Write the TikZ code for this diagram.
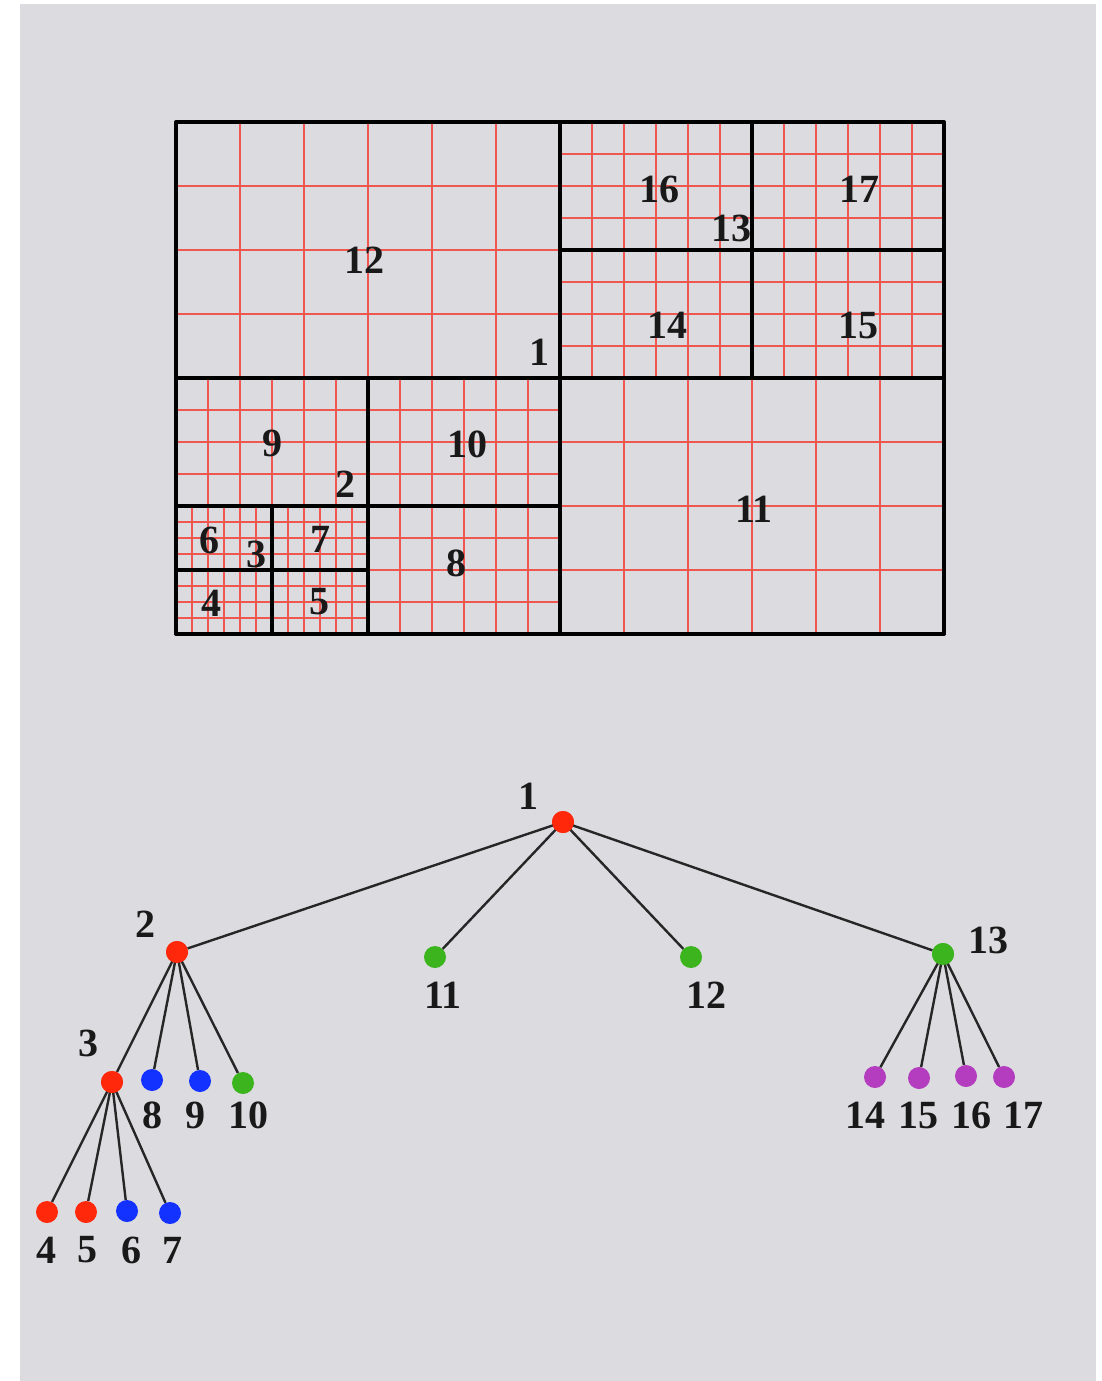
\documentclass[tikz,border=0pt]{standalone}
\usepackage{fontspec}
\setmainfont{Liberation Serif}
\definecolor{bg}{RGB}{220,220,224}
\definecolor{rg}{RGB}{238,88,80}
\definecolor{nred}{RGB}{255,40,10}
\definecolor{nblue}{RGB}{20,50,255}
\definecolor{ngreen}{RGB}{60,180,30}
\definecolor{nmag}{RGB}{180,60,190}
\newcommand\mygrid[5]{%
  \pgfmathtruncatemacro\nx{(#3-#1)/#5-1}%
  \pgfmathtruncatemacro\ny{(#4-#2)/#5-1}%
  \foreach \i in {1,...,\nx} \draw[rgline] ({#1+\i*#5},#2) -- ({#1+\i*#5},#4);%
  \foreach \j in {1,...,\ny} \draw[rgline] (#1,{#2+\j*#5}) -- (#3,{#2+\j*#5});%
}
\begin{document}
\begin{tikzpicture}[x=1pt,y=-1pt,
  rgline/.style={draw=rg,line width=2pt},
  bk/.style={draw=black,line width=4pt,line cap=round,line join=round},
  lab/.style={font=\fontsize{40}{40}\selectfont\bfseries,inner sep=0pt,text=black!90},
  dot/.style={circle,minimum size=22pt,inner sep=0pt,draw=none},
  edge/.style={draw=black!85,line width=2.4pt}]
\useasboundingbox (0,0) rectangle (1102,1381);
\fill[white] (0,0) rectangle (1102,1381);
\fill[bg] (20,4) rectangle (1096,1381);
% red grids
\mygrid{176}{122}{560}{378}{64}
\mygrid{560}{378}{944}{634}{64}
\mygrid{560}{122}{944}{378}{32}
\mygrid{176}{378}{560}{506}{32}
\mygrid{368}{506}{560}{634}{32}
\mygrid{176}{506}{368}{634}{16}
% black partition
\draw[bk] (176,122) rectangle (944,634);
\draw[bk] (560,122) -- (560,634);
\draw[bk] (176,378) -- (944,378);
\draw[bk] (752,122) -- (752,378);
\draw[bk] (560,250) -- (944,250);
\draw[bk] (368,378) -- (368,634);
\draw[bk] (176,506) -- (560,506);
\draw[bk] (272,506) -- (272,634);
\draw[bk] (176,570) -- (368,570);
% grid labels
\node[lab] (g12) at (364,260) {12};
\node[lab] (g1) at (539,352) {1};
\node[lab] (g16) at (659,189) {16};
\node[lab] (g13) at (731,228) {13};
\node[lab] (g17) at (859,189) {17};
\node[lab] (g14) at (667,325) {14};
\node[lab] (g15) at (858,325) {15};
\node[lab] (g9) at (272,443) {9};
\node[lab] (g2) at (345,484) {2};
\node[lab] (g10) at (467,444) {10};
\node[lab] (g11) at (754,509) {11};
\node[lab] (g6) at (209,540) {6};
\node[lab] (g3) at (256,554) {3};
\node[lab] (g7) at (320,539) {7};
\node[lab] (g4) at (211,603) {4};
\node[lab] (g5) at (319,602) {5};
\node[lab] (g8) at (456,563) {8};
% tree nodes
\node[dot,fill=nred] (n1) at (563,822) {};
\node[dot,fill=nred] (n2) at (177,952) {};
\node[dot,fill=ngreen] (n11) at (435,957) {};
\node[dot,fill=ngreen] (n12) at (691,957) {};
\node[dot,fill=ngreen] (n13) at (943,954) {};
\node[dot,fill=nred] (n3) at (112,1082) {};
\node[dot,fill=nblue] (n8) at (152,1080) {};
\node[dot,fill=nblue] (n9) at (200,1081) {};
\node[dot,fill=ngreen] (n10) at (243,1083) {};
\node[dot,fill=nred] (n4) at (47,1212) {};
\node[dot,fill=nred] (n5) at (86,1212) {};
\node[dot,fill=nblue] (n6) at (127,1211) {};
\node[dot,fill=nblue] (n7) at (170,1213) {};
\node[dot,fill=nmag] (n14) at (875,1077) {};
\node[dot,fill=nmag] (n15) at (919,1078) {};
\node[dot,fill=nmag] (n16) at (966,1076) {};
\node[dot,fill=nmag] (n17) at (1004,1077) {};
% edges
\begin{scope}[on background layer/.style={}]
\foreach \c in {n2,n11,n12,n13} \draw[edge] (n1.center) -- (\c);
\foreach \c in {n3,n8,n9,n10} \draw[edge] (n2.center) -- (\c);
\foreach \c in {n4,n5,n6,n7} \draw[edge] (n3.center) -- (\c);
\foreach \c in {n14,n15,n16,n17} \draw[edge] (n13.center) -- (\c);
\end{scope}
% redraw dots on top of edge starts
\foreach \n/\col/\x/\y in {n1/nred/563/822,n2/nred/177/952,n13/ngreen/943/954,n3/nred/112/1082}
  \fill[\col] (\x,\y) circle (11pt);
% tree labels
\node[lab] (t1) at (528,796) {1};
\node[lab] (t2) at (145,924) {2};
\node[lab] (t11) at (443,995) {11};
\node[lab] (t12) at (706,995) {12};
\node[lab] (t13) at (988,940) {13};
\node[lab] (t3) at (88,1043) {3};
\node[lab] (t8) at (152,1115) {8};
\node[lab] (t9) at (195,1115) {9};
\node[lab] (t10) at (248,1115) {10};
\node[lab] (t4) at (46,1250) {4};
\node[lab] (t5) at (87,1250) {5};
\node[lab] (t6) at (131,1250) {6};
\node[lab] (t7) at (172,1250) {7};
\node[lab] (t14) at (865,1115) {14};
\node[lab] (t15) at (918,1115) {15};
\node[lab] (t16) at (971,1115) {16};
\node[lab] (t17) at (1023,1115) {17};
\end{tikzpicture}
\end{document}
